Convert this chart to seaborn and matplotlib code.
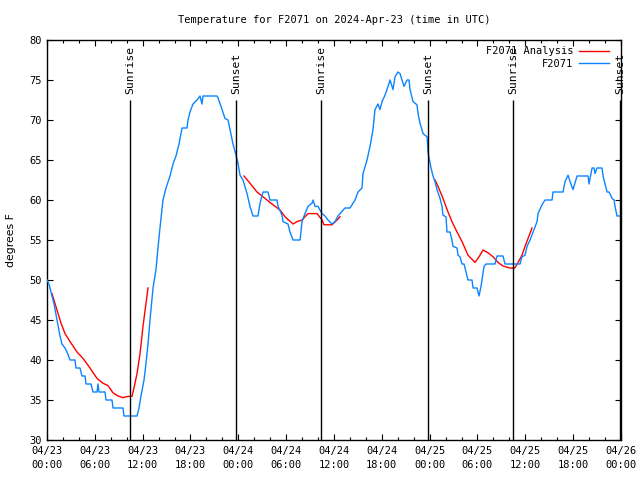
import numpy as np
import pandas as pd
import matplotlib
matplotlib.use("Agg")
import matplotlib.pyplot as plt
import matplotlib.dates as mdates
import seaborn as sns

START = pd.Timestamp("2024-04-23 00:00")

# Observed F2071 temperature (hours since 04/23 00:00 UTC, degrees F)
obs_hours = [0, 0.25, 0.63, 0.88, 1.25, 1.63, 1.88, 2.26, 2.51, 2.89, 3.51, 3.64, 4.14, 4.39, 4.77,
             4.89, 5.52, 5.77, 6.27, 6.40, 6.52, 7.28, 7.40, 8.15, 8.28, 9.53, 9.66, 11.29, 11.54,
             11.79, 12.17, 12.42, 12.67, 12.92, 13.30, 13.67, 13.92, 14.17, 14.55, 14.93, 15.43,
             15.81, 16.18, 16.56, 16.94, 17.56, 17.69, 17.94, 18.31, 18.82, 19.19, 19.44, 19.57,
             20.07, 21.32, 21.45, 21.95, 22.33, 22.70, 22.96, 23.33, 23.71, 23.96, 24.21, 24.59,
             25.09, 25.46, 25.84, 26.47, 26.72, 27.10, 27.72, 27.97, 28.85, 28.98, 29.48, 29.60,
             30.23, 30.48, 30.86, 31.74, 31.99, 32.36, 32.74, 33.24, 33.37, 33.62, 33.99, 34.50,
             34.87, 35.25, 35.75, 36.13, 36.50, 36.75, 37.38, 38.01, 38.64, 39.01, 39.51, 39.64,
             40.14, 40.52, 40.89, 41.14, 41.52, 41.77, 42.02, 42.40, 42.78, 43.03, 43.40, 43.65,
             44.03, 44.28, 44.53, 44.78, 45.16, 45.41, 45.54, 45.91, 46.41, 46.54, 46.79, 47.17,
             47.67, 47.79, 48.17, 48.42, 48.67, 48.92, 49.30, 49.55, 49.67, 50.05, 50.17, 50.55,
             50.80, 50.93, 51.43, 51.56, 51.81, 52.06, 52.31, 52.56, 52.81, 53.31, 53.44, 53.94,
             54.19, 54.44, 54.69, 54.82, 55.07, 56.20, 56.45, 57.20, 57.45, 59.33, 59.58, 59.96,
             60.21, 60.59, 60.97, 61.47, 61.59, 62.09, 62.47, 63.35, 63.47, 64.73, 64.98, 65.36,
             65.61, 65.98, 66.49, 67.87, 67.99, 68.37, 68.62, 68.74, 68.99, 69.62, 69.75, 70.25,
             70.50, 70.88, 71.13, 71.25, 71.50, 71.88]
obs_temp = [50, 49.5, 48, 47, 45, 43, 42, 41.5, 41, 40, 40, 39, 39, 38, 38,
            37, 37, 36, 36, 37, 36, 36, 35, 35, 34, 34, 33, 33, 34,
            35.5, 37.5, 39.6, 42, 45, 49, 51.3, 54, 56.5, 60, 61.5, 63,
            64.5, 65.5, 67, 69, 69, 70, 71, 72, 72.5, 73, 72, 73,
            73, 73, 72.8, 71.3, 70.2, 70, 68.8, 67, 65.6, 64.6, 63.1, 62.5,
            60.8, 59.2, 58, 58, 59.6, 61, 61, 60, 60, 59.2, 58.1, 57.3,
            57, 56, 55, 55, 57.3, 58.3, 59.2, 59.6, 60, 59.2, 59.2, 58.3,
            58, 57.5, 57, 57.3, 58, 58.3, 59, 59, 60, 61, 61.5, 63.3,
            65, 66.7, 68.8, 71.3, 72, 71.3, 72.3, 73.1, 74.2, 75, 73.8, 75.4,
            76, 75.8, 75, 74.2, 75, 75, 73.8, 72.3, 71.9, 70.8, 69.6, 68.3,
            67.9, 66, 64, 63, 62.3, 61.3, 60.2, 59.2, 58.1, 57.9, 56, 56,
            55, 54.2, 54, 53.1, 52.9, 52, 52, 51, 50, 50, 49, 49,
            48, 49.2, 50.8, 51.7, 52, 52, 53, 53, 52, 52, 52.9, 53.1,
            54.2, 55, 56, 57.3, 58.3, 59.4, 60, 60, 61, 61, 62.3, 63.1,
            62.3, 61.3, 63, 63, 62, 64, 64, 63.3, 64, 64, 63, 61,
            61, 60.2, 60, 59.2, 58, 58]

# F2071 Analysis (three separate segments)
ana1_hours = [0.63, 1.25, 1.76, 2.26, 2.89, 3.76, 4.52, 5.39, 6.27, 7.02, 7.65, 8.28, 8.91, 9.53,
              10.16, 10.66, 10.91, 11.29, 11.67, 12.04, 12.42, 12.67]
ana1_temp = [48.3, 46.25, 44.6, 43.3, 42.3, 41, 40.2, 39, 37.7, 37.1, 36.8, 35.9, 35.5, 35.3,
             35.45, 35.45, 36.5, 38.3, 40.8, 44.2, 47.1, 49]
ana2_hours = [24.71, 25.46, 26.34, 27.35, 28.35, 29.23, 29.86, 30.86, 31.36, 31.99, 32.74, 33.87,
              34.50, 34.75, 35.75, 36.38, 36.75]
ana2_temp = [63, 62.1, 61, 60.2, 59.4, 58.75, 57.9, 57, 57.3, 57.5, 58.3, 58.3,
             57.5, 56.9, 56.9, 57.5, 57.9]
ana3_hours = [48.67, 49.05, 49.67, 50.30, 50.80, 51.43, 52.06, 52.81, 53.69, 54.19, 54.69, 55.32,
              55.95, 56.57, 57.20, 58.04, 58.67, 59.04, 59.58, 59.96, 60.34, 60.84]
ana3_temp = [62.5, 61.7, 60.2, 58.5, 57.3, 56, 54.8, 53.1, 52.2, 52.9, 53.75, 53.4,
             52.9, 52.2, 51.75, 51.5, 51.5, 52.1, 53.1, 54.2, 55.2, 56.5]

# Sun events
sun_labels = ["Sunrise", "Sunset", "Sunrise", "Sunset", "Sunrise", "Sunset"]
sun_hours = [10.41, 23.71, 34.37, 47.79, 58.46, 71.88]

title = "Temperature for F2071 on 2024-Apr-23 (time in UTC)"
ylabel = "degrees F"


def to_time(hours):
    return START + pd.to_timedelta(np.asarray(hours, dtype=float), unit="h")


mono = ["DejaVu Sans Mono"]
plt.rcParams["font.family"] = mono
plt.rcParams["font.size"] = 7

fig = plt.figure(figsize=(6.4, 4.8), dpi=100)
ax = fig.add_axes([47 / 640, 40 / 480, 574 / 640, 400 / 480])

RED = "#ff0000"
BLUE = "#0a84ff"

obs_df = pd.DataFrame({"time": to_time(obs_hours), "temp": obs_temp})
sns.lineplot(data=obs_df, x="time", y="temp", ax=ax, color=BLUE, lw=1.0,
             estimator=None, sort=False, zorder=3)

ana_df = pd.concat([
    pd.DataFrame({"time": to_time(h), "temp": t, "seg": i})
    for i, (h, t) in enumerate([(ana1_hours, ana1_temp), (ana2_hours, ana2_temp), (ana3_hours, ana3_temp)])
])
sns.lineplot(data=ana_df, x="time", y="temp", units="seg", ax=ax, color=RED, lw=1.0,
             estimator=None, sort=False, zorder=2)

ax.set_xlim(START, START + pd.Timedelta(hours=72))
ax.set_ylim(30, 80)

for lab, h in zip(sun_labels, sun_hours):
    t = to_time([h])[0]
    ax.vlines(t, 30, 72.5, color="black", lw=1.0, zorder=4)
    ax.text(t, 73.2, lab, rotation=90, ha="center", va="bottom", fontsize=8.2,
            family=mono, clip_on=False)

ax.xaxis.set_major_locator(mdates.HourLocator(byhour=range(0, 24, 6)))
ax.xaxis.set_minor_locator(mdates.HourLocator(byhour=range(0, 24, 2)))
ax.xaxis.set_major_formatter(mdates.DateFormatter("%m/%d\n%H:%M"))
ax.yaxis.set_major_locator(matplotlib.ticker.MultipleLocator(5))

ax.tick_params(axis="both", which="major", direction="in", length=4.5, width=0.8,
               top=True, right=True, labelsize=7.5, pad=4)
ax.tick_params(axis="x", which="minor", direction="in", length=2.5, width=0.8, top=True)
for lbl in ax.get_xticklabels():
    lbl.set_linespacing(1.6)
for sp in ax.spines.values():
    sp.set_linewidth(1.0)
    sp.set_color("black")

ax.set_xlabel("")
ax.set_ylabel(ylabel, family=["DejaVu Sans"], fontsize=7.8, labelpad=9)
ax.set_title(title, fontsize=7.5, pad=12)

from matplotlib.lines import Line2D
handles = [Line2D([], [], color=RED, lw=1.0), Line2D([], [], color=BLUE, lw=1.0)]
ax.legend(handles, ["F2071 Analysis", "F2071"], loc="upper right", frameon=False,
          bbox_to_anchor=(1 - 6 / 574, 1.0),
          markerfirst=False, fontsize=7.5, handlelength=2.9, handletextpad=0.5,
          borderaxespad=0.3, labelspacing=0.25, borderpad=0.3)

fig.savefig("out.png", dpi=100)
